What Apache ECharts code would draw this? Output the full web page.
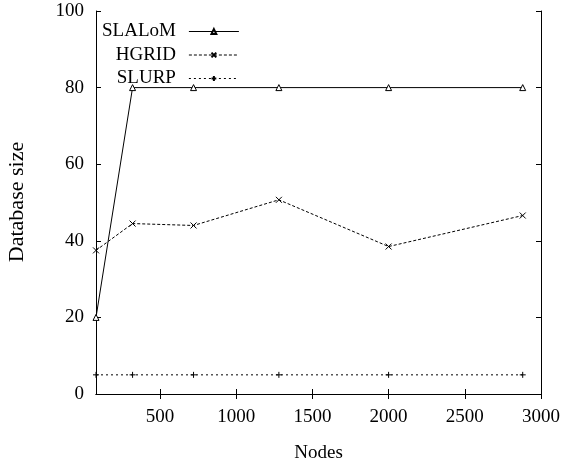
<!DOCTYPE html>
<html>
<head>
<meta charset="utf-8">
<script src="https://cdn.jsdelivr.net/npm/echarts@6/dist/echarts.min.js"></script>
<style>html,body{margin:0;padding:0;background:#fff}#c{width:565px;height:468px}</style>
</head>
<body>
<div id="c"></div>
<script>
const nodes = [80, 320, 720, 1280, 2000, 2880];
const slalom = [20, 80, 80, 80, 80, 80];
const hgrid = [37.5, 44.5, 44, 50.7, 38.5, 46.6];
const slurp = [5, 5, 5, 5, 5, 5];
const xTicks = [500, 1000, 1500, 2000, 2500, 3000];
const yTicks = [0, 20, 40, 60, 80, 100];

const FONT = 'Liberation Serif';
const FS = 19;
const pair = (ys) => nodes.map((x, i) => [x, ys[i]]);

const chart = echarts.init(document.getElementById('c'), null, {renderer: 'canvas'});
const tickStyle = {show: true, inside: true, length: 5, lineStyle: {color: '#000', width: 1}};
const lineAx = {show: true, lineStyle: {color: '#000', width: 1}};

function mkSeries(name, data, symbol, dash) {
  return {
    name, type: 'line', data: pair(data), symbol, symbolSize: 6,
    xAxisIndex: 0, yAxisIndex: 0,
    lineStyle: {color: '#000', width: 1, type: dash},
    itemStyle: {color: '#fff', borderColor: '#000', borderWidth: 1},
    emphasis: {disabled: true}, animation: false
  };
}

chart.setOption({
  animation: false,
  backgroundColor: '#fff',
  textStyle: {fontFamily: FONT},
  grid: {left: 96, right: 24, top: 11, bottom: 73, show: false},
  legend: {
    orient: 'vertical', align: 'right', left: 97, top: 16,
    itemWidth: 50, itemHeight: 6, itemGap: 2.5,
    lineStyle: {width: 1},
    textStyle: {fontFamily: FONT, fontSize: FS, color: '#000', lineHeight: 21, padding: [0, 8, 0, 0]},
    data: ['SLALoM', 'HGRID', 'SLURP']
  },
  xAxis: [{
    type: 'value', min: 80, max: 3000, position: 'bottom',
    name: 'Nodes', nameLocation: 'middle', nameGap: 50,
    nameTextStyle: {fontFamily: FONT, fontSize: FS, color: '#000'},
    axisLine: lineAx,
    axisTick: Object.assign({customValues: xTicks}, tickStyle),
    axisLabel: {customValues: xTicks, fontFamily: FONT, fontSize: FS, color: '#000', margin: 14,
      formatter: (v) => String(v)},
    splitLine: {show: false}
  }, {
    type: 'value', min: 80, max: 3000, position: 'top',
    axisLine: lineAx,
    axisTick: Object.assign({customValues: xTicks}, tickStyle),
    axisLabel: {show: false, customValues: xTicks},
    splitLine: {show: false}
  }],
  yAxis: [{
    type: 'value', min: 0, max: 100, interval: 20, position: 'left',
    axisLine: lineAx,
    axisTick: Object.assign({customValues: yTicks}, tickStyle),
    axisLabel: {customValues: yTicks, fontFamily: FONT, fontSize: FS, color: '#000', margin: 12,
      formatter: (v) => String(v)},
    splitLine: {show: false}
  }, {
    type: 'value', min: 0, max: 100, interval: 20, position: 'right',
    axisLine: lineAx,
    axisTick: Object.assign({customValues: yTicks}, tickStyle),
    axisLabel: {show: false},
    splitLine: {show: false}
  }],
  graphic: [{
    type: 'text', x: 18, y: 202, rotation: Math.PI / 2, scaleX: 1.1,
    style: {text: 'Database size', font: '20px "Liberation Serif"', fill: '#000', align: 'center', verticalAlign: 'middle'}
  }],
  series: [
    mkSeries('SLALoM', slalom, 'path://M5,0L10,9L0,9Z', 'solid'),
    mkSeries('HGRID', hgrid, 'path://M0,0L10,10M10,0L0,10', [3, 2]),
    mkSeries('SLURP', slurp, 'path://M5,0L5,10M0,5L10,5', [2, 3])
  ]
});
</script>
</body>
</html>
